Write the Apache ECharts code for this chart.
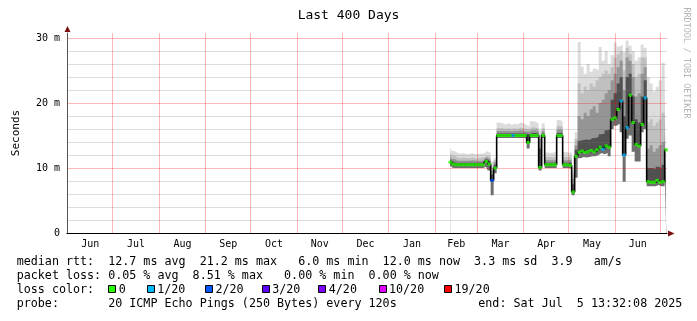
<!DOCTYPE html>
<html><head><meta charset="utf-8">
<script src="https://cdn.jsdelivr.net/npm/echarts@6/dist/echarts.min.js"></script>
<style>html,body{margin:0;padding:0;background:#fff}#c{width:697px;height:321px}</style>
</head><body><div id="c"></div>
<script>
// ---- axis definitions (x in days since 2024-06-01 00:00) ----
const xMin = -0.44, xMax = 399.56;
const monthStarts = [30, 61, 92, 122, 153, 183, 214, 245, 273, 304, 334, 365, 395];
const monthLabels = ['Jun','Jul','Aug','Sep','Oct','Nov','Dec','Jan','Feb','Mar','Apr','May','Jun'];
const monthLabelDays = [15, 45.5, 76.5, 107, 137.5, 168, 198.5, 229.5, 259, 288.5, 319, 349.5, 380];
const yMax = 30.77;
const yMajorTicks = [0, 10, 20, 30];
const yTickLabels = ['0', '10 m', '20 m', '30 m'];
const yMinorTicks = [2, 4, 6, 8, 12, 14, 16, 18, 22, 24, 26, 28];

// ---- data (ms) ----
const days = [255,257,259,261,263,265,267,269,271,273,275,277,279,281,283,285,287,289,291,293,295,297,299,301,303,305,307,309,311,313,315,317,319,321,323,325,327,329,331,333,335,337,339,341,343,345,347,349,351,353,355,357,359,361,363,365,367,369,371,373,375,377,379,381,383,385,387,389,391,393,395,397,399];
const median = [10.9,10.6,10.5,10.5,10.5,10.5,10.5,10.5,10.5,10.5,10.5,10.5,11.0,10.6,8.1,10.0,15.0,15.0,15.0,15.0,15.0,15.0,15.0,15.0,15.0,15.0,13.9,15.0,15.0,15.0,10.1,15.0,10.5,10.5,10.5,10.5,15.0,15.0,10.5,10.5,10.4,6.3,11.8,12.4,12.6,12.4,12.5,12.7,12.5,12.8,13.2,12.9,13.4,13.2,17.5,17.7,19.0,20.3,12.0,16.2,21.2,17.0,13.6,13.4,16.7,20.8,7.9,7.8,7.8,8.1,7.8,7.9,12.8];
const minPing = [10.3,10.0,10.0,10.0,10.0,10.0,10.0,10.0,10.0,10.0,10.0,10.0,10.2,9.6,5.8,9.2,14.6,14.6,14.6,14.6,14.6,14.6,14.6,14.6,14.6,14.6,13.0,14.6,14.6,14.6,9.6,14.6,10.0,10.0,10.0,10.0,14.6,14.6,10.0,10.0,9.9,5.8,8.5,11.5,11.7,11.6,11.7,11.8,11.8,12.0,12.3,12.1,12.3,11.8,16.0,16.5,16.8,15.5,7.9,14.5,15.0,12.5,11.0,11.0,15.5,16.0,7.2,7.2,7.2,7.4,7.2,7.2,10.5];
const smoke1 = [11.3,11.0,10.8,10.8,10.8,10.8,10.8,10.8,10.8,10.8,10.8,10.8,11.3,11.0,9.0,10.5,15.3,15.3,15.3,15.3,15.3,15.3,15.3,15.3,15.3,15.3,15.2,15.4,15.4,15.3,13.0,15.3,10.8,10.8,10.8,10.8,15.4,15.4,10.8,10.8,10.9,7.5,12.8,14.2,14.3,14.4,14.3,14.6,14.6,14.8,15.2,15.3,15.8,16.0,20.5,21.5,23.0,24.0,18.0,24.0,24.5,21.0,17.5,17.0,21.0,23.5,10.0,10.0,9.8,10.2,10.0,10.5,15.0];
const smoke2 = [11.8,11.4,11.1,11.1,11.1,11.1,11.1,11.2,11.1,11.1,11.1,11.2,11.6,11.3,9.6,10.9,15.7,15.7,15.7,15.7,15.6,15.7,15.7,15.8,15.7,15.6,15.6,15.8,15.8,15.7,14.5,15.7,11.2,11.2,11.2,11.2,15.9,15.9,11.2,11.2,11.3,8.3,13.5,18.0,17.5,18.5,18.0,19.0,19.5,18.5,20.0,20.5,21.5,22.0,23.5,24.5,25.5,26.5,22.0,27.0,26.5,24.0,21.0,21.5,24.5,25.5,13.0,13.5,12.5,13.0,13.5,14.0,18.0];
const smoke3 = [12.4,11.9,11.6,11.5,11.6,11.5,11.5,11.6,11.5,11.5,11.6,11.6,11.9,11.7,10.2,11.2,16.1,16.1,16.0,16.1,16.0,16.1,16.0,16.2,16.1,16.0,16.0,16.3,16.2,16.1,15.2,16.1,11.7,11.7,11.6,11.7,16.5,16.4,11.7,11.7,11.8,9.0,14.5,23.0,21.5,22.5,22.0,23.0,22.5,23.5,24.0,24.5,25.0,24.5,25.5,27.0,27.5,28.0,25.0,28.5,27.5,26.0,24.0,24.5,27.0,27.0,17.0,17.5,16.5,17.0,17.5,18.5,21.0];
const maxPing = [13.3,12.6,12.3,12.2,12.3,12.1,12.2,12.3,12.1,12.2,12.2,12.3,12.6,12.3,11.0,11.5,17.0,16.9,16.7,16.9,16.6,16.8,16.7,17.0,16.9,16.6,16.4,17.2,17.1,16.8,15.8,16.9,12.4,12.3,12.4,12.5,17.4,17.2,12.5,12.4,12.4,9.6,15.5,29.4,25.6,24.5,26.0,24.8,25.3,25.0,28.6,26.5,28.0,26.0,27.4,29.3,28.7,29.0,27.8,29.6,28.8,28.0,26.5,27.0,29.0,28.5,24.0,23.0,21.8,22.5,23.5,26.2,24.0];
// packets lost out of 20 per sample
const loss = [0,0,0,0,0,0,0,0,0,0,0,0,0,0,2,0,0,0,0,0,0,1,0,0,0,0,0,0,0,0,0,0,0,0,0,0,0,0,0,0,0,0,0,0,0,0,0,0,0,0,0,1,0,0,0,0,0,1,1,1,0,0,0,0,0,1,0,0,0,0,0,0,0];
const lossLevels = [0, 1, 2, 3, 4, 10, 19];
const lossLevelLabels = ['0', '1/20', '2/20', '3/20', '4/20', '10/20', '19/20'];
const lossColors = ['#26ff00', '#00b8ff', '#0059ff', '#5e00ff', '#7e00ff', '#dd00ff', '#ff0000'];

const titleText = 'Last 400 Days';
const yName = 'Seconds';
const legendLines = [
  'median rtt:  12.7 ms avg  21.2 ms max   6.0 ms min  12.0 ms now  3.3 ms sd  3.9   am/s',
  'packet loss: 0.05 % avg  8.51 % max   0.00 % min  0.00 % now',
  'loss color:',
  'probe:       20 ICMP Echo Pings (250 Bytes) every 120s'
];
const endText = 'end: Sat Jul  5 13:32:08 2025';
const sideText = 'RRDTOOL / TOBI OETIKER';

// ---- build ----
const MONO = '"DejaVu Sans Mono", monospace';
function pairs(arr) { return days.map((d, i) => [d, arr[i]]); }
function lossColor(l) {
  let idx = 0;
  for (let k = 0; k < lossLevels.length; k++) if (l >= lossLevels[k]) idx = k;
  return lossColors[idx];
}

// smoke drawn as overlapping filled areas, outermost first; min ping masks below
const layers = [
  { values: maxPing, color: '#dcdcdc' },
  { values: smoke3, color: '#c0c0c0' },
  { values: smoke2, color: '#959595' },
  { values: smoke1, color: '#505050' },
  { values: median, color: '#6e6e6e' },
  { values: minPing, color: '#ffffff' }
];

const series = [];
layers.forEach(l => series.push({
  type: 'line', data: pairs(l.values), step: 'middle',
  symbol: 'none', showSymbol: false, lineStyle: { width: 0 },
  areaStyle: { color: l.color, opacity: 1, origin: 'start' }, silent: true, z: 1
}));
series.push({
  type: 'line', data: pairs(median), step: 'middle', symbol: 'none', showSymbol: false,
  lineStyle: { color: '#000', width: 1.6 }, z: 6, silent: true
});
series.push({
  type: 'scatter', symbol: 'rect', symbolSize: [3.4, 3], z: 7, silent: true,
  data: days.map((d, i) => ({ value: [d, median[i]], itemStyle: { color: lossColor(loss[i]) } }))
});

const LEG_FONT = '11.7px ' + MONO;
const graphic = [];
graphic.push({ type: 'text', x: 348.5, y: 16, style: { text: titleText, font: '13px ' + MONO, fill: '#000', textAlign: 'center', textVerticalAlign: 'middle' } });
graphic.push({ type: 'text', x: 686.5, y: 7.5, rotation: -Math.PI / 2, style: { text: sideText, font: '8.4px ' + MONO, fill: '#b4b4b4', textAlign: 'left', textVerticalAlign: 'middle' } });
const lineY = [261.5, 275.5, 289.5, 303.5];
legendLines.forEach((t, i) => graphic.push({ type: 'text', x: 16.7, y: lineY[i], style: { text: t, font: LEG_FONT, fill: '#000', textAlign: 'left', textVerticalAlign: 'middle' } }));
graphic.push({ type: 'text', x: 478.3, y: lineY[3], style: { text: endText, font: LEG_FONT, fill: '#000', textAlign: 'left', textVerticalAlign: 'middle' } });
const boxX = [108.3, 146.7, 205, 261.7, 318.3, 378.5, 444];
lossLevelLabels.forEach((lab, i) => {
  graphic.push({ type: 'rect', shape: { x: Math.round(boxX[i]) + 0.5, y: 285.5, width: 7, height: 7 }, style: { fill: lossColors[i], stroke: '#000', lineWidth: 1 } });
  graphic.push({ type: 'text', x: boxX[i] + 10.5, y: lineY[2], style: { text: lab, font: LEG_FONT, fill: '#000', textAlign: 'left', textVerticalAlign: 'middle' } });
});
// axis arrows
graphic.push({ type: 'polygon', shape: { points: [[64.5, 32], [70.5, 32], [67.5, 26]] }, style: { fill: '#7a1010' }, z: 10 });
graphic.push({ type: 'polygon', shape: { points: [[668, 230.5], [668, 236.5], [674.5, 233.5]] }, style: { fill: '#7a1010' }, z: 10 });

const chart = echarts.init(document.getElementById('c'), null, { renderer: 'canvas' });
chart.setOption({
  animation: false,
  backgroundColor: '#fff',
  grid: { left: 67, top: 33, width: 600, height: 200, containLabel: false, outerBoundsMode: 'none' },
  xAxis: {
    type: 'value', min: xMin, max: xMax, z: 4,
    axisLine: { show: true, onZero: false, lineStyle: { color: '#000', width: 1 } },
    axisTick: { show: false, customValues: monthStarts },
    splitLine: { show: true, lineStyle: { color: 'rgba(255,0,0,0.28)', width: 1 } },
    axisLabel: {
      customValues: monthLabelDays, margin: 6, color: '#000', fontFamily: MONO, fontSize: 10,
      formatter: v => { const k = monthLabelDays.indexOf(v); return k >= 0 ? monthLabels[k] : ''; }
    }
  },
  yAxis: [{
    type: 'value', min: 0, max: yMax, position: 'left', z: 3,
    axisLine: { show: false }, axisTick: { show: false, customValues: yMinorTicks },
    axisLabel: { show: false },
    splitLine: { show: true, lineStyle: { color: 'rgba(120,120,120,0.25)', width: 1 } }
  }, {
    type: 'value', min: 0, max: yMax, position: 'left', z: 4,
    name: yName, nameLocation: 'middle', nameGap: 45, nameRotate: 90,
    nameTextStyle: { fontFamily: MONO, fontSize: 11, color: '#000' },
    axisLine: { show: true, onZero: false, lineStyle: { color: '#555', width: 1 } },
    axisTick: { show: false, customValues: yMajorTicks },
    axisLabel: {
      customValues: yMajorTicks, margin: 7, color: '#000', fontFamily: MONO, fontSize: 10,
      formatter: v => { const k = yMajorTicks.indexOf(v); return k >= 0 ? yTickLabels[k] : ''; }
    },
    splitLine: { show: true, lineStyle: { color: 'rgba(255,0,0,0.28)', width: 1 } }
  }],
  series: series,
  graphic: graphic
});
</script></body></html>
